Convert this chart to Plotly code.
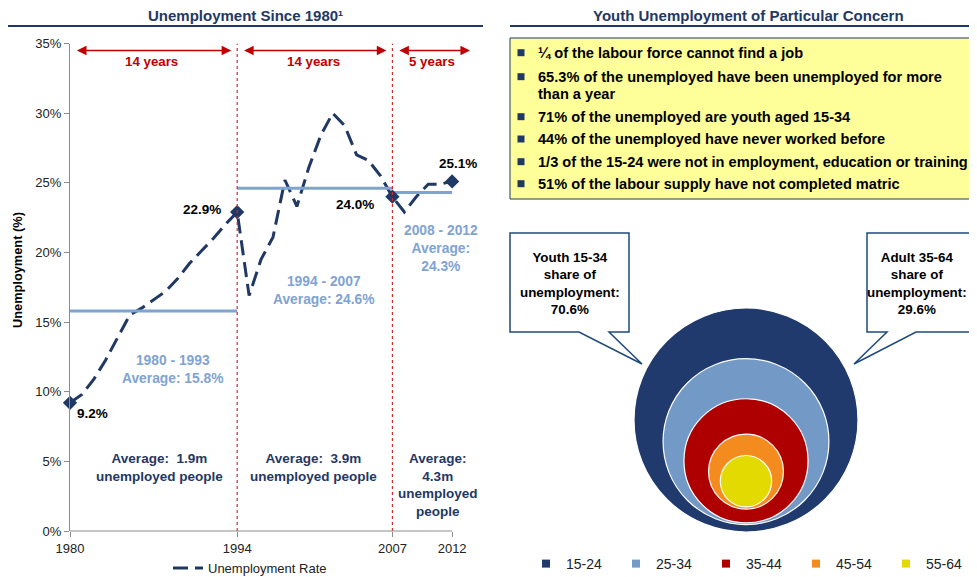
import plotly.graph_objects as go

# the page is shown with the browser's 8px body margin, so every pixel position
# below is measured from the window's top-left corner and shifted by OFF
OFF = 8
W, H = 977 - OFF, 577 - OFF

# --- left panel data ---
years = list(range(1980, 2013))
unemployment_rate = [9.2, 9.8, 10.9, 12.3, 13.9, 15.5, 16.0, 16.6, 17.2, 18.1, 19.2, 20.1, 21.0, 22.0,
                     22.9, 16.9, 19.5, 21.1, 25.2, 23.3, 26.1, 28.4, 30.0, 29.1, 27.0, 26.6, 25.5,
                     24.0, 22.9, 24.0, 24.9, 24.9, 25.1]
highlight_years = [1980, 1994, 2007, 2012]
x_ticks = [1980, 1994, 2007, 2012]

period_labels = ["1980 - 1993", "1994 - 2007", "2008 - 2012"]
period_start = [1980, 1994, 2007]
period_end = [1994, 2007, 2012]
period_avg = [15.8, 24.6, 24.3]
period_length = [14, 14, 5]
period_unemployed = ["1.9m", "3.9m", "4.3m"]

# --- right panel data ---
facts = [
    "¼ of the labour force cannot find a job",
    "65.3% of the unemployed have been unemployed for more<br>than a year",
    "71% of the unemployed are youth aged 15-34",
    "44% of the unemployed have never worked before",
    "1/3 of the 15-24 were not in employment, education or training",
    "51% of the labour supply have not completed matric",
]
age_groups = ["15-24", "25-34", "35-44", "45-54", "55-64"]
bubble_size = [45.6, 25.0, 14.0, 5.1, 2.4]
bubble_y = [5.0, 4.1, 3.3, 2.85, 2.45]
youth_share = 70.6
adult_share = 29.6

NAVY = "#1F3864"
LIGHT = "#7FA3D3"
RED = "#C00000"
GREY = "#8C8C8C"
bubble_colors = ["#203A6E", "#7399C6", "#AE0000", "#F38B1F", "#E2DA00"]
FONT = "Liberation Sans, Arial, sans-serif"


def fx(px):
    return (px - OFF) / W


def fy(py):
    return 1 - (py - OFF) / H


def note(px, py, text, size=13, color="#000", **kw):
    opts = dict(x=fx(px), y=fy(py), xref="paper", yref="paper", text=text, showarrow=False,
                xanchor="center", yanchor="middle", font=dict(size=size, color=color))
    opts.update(kw)
    fig.add_annotation(**opts)


fig = go.Figure()

# unemployment line
fig.add_trace(go.Scatter(
    x=years, y=unemployment_rate, mode="lines", name="Unemployment Rate",
    line=dict(color=NAVY, width=3, dash="15px,7px"), legend="legend", hoverinfo="skip"))

# period averages
for s, e, a in zip(period_start, period_end, period_avg):
    fig.add_trace(go.Scatter(x=[s, e], y=[a, a], mode="lines", showlegend=False,
                             line=dict(color=LIGHT, width=3), hoverinfo="skip"))

hl_vals = [unemployment_rate[years.index(y)] for y in highlight_years]
fig.add_trace(go.Scatter(x=highlight_years, y=hl_vals, mode="markers", showlegend=False,
                         marker=dict(symbol="diamond", size=11, color=NAVY),
                         cliponaxis=False, hoverinfo="skip"))

# data labels on highlighted points
label_shift = [(22, -11), (-35, 3), (-37, -8), (6, 18)]
for yr, v, (dx, dy) in zip(highlight_years, hl_vals, label_shift):
    fig.add_annotation(x=yr, y=v, xref="x", yref="y", text=f"<b>{v:.1f}%</b>", showarrow=False,
                       xshift=dx, yshift=dy, font=dict(size=13.5, color="#000"))

# period boundaries
for b in period_end[:2]:
    fig.add_shape(type="line", xref="x", yref="y", x0=b, x1=b, y0=0, y1=35,
                  line=dict(color="#D42A2A", width=1.2, dash="3px,3px"))

# span arrows
bounds = [1980, 1994, 2007, 2014]
for i, n in enumerate(period_length):
    a0, a1 = bounds[i] + 0.45, bounds[i + 1] - 0.5
    fig.add_annotation(x=a1, y=34.5, ax=a0, ay=34.5, xref="x", yref="y", axref="x", ayref="y",
                       text="", showarrow=True, arrowhead=2, startarrowhead=2, arrowside="end+start",
                       arrowsize=1.2, startarrowsize=1.2, arrowwidth=1.6, arrowcolor=RED, standoff=0,
                       startstandoff=0)
    fig.add_annotation(x=(bounds[i] + bounds[i + 1]) / 2 - 0.15, y=33.7, xref="x", yref="y",
                       text=f"<b>{n} years</b>", showarrow=False, font=dict(size=13.3, color=RED))

# average text
avg_pos = [(172.8, 369.8), (324, 290.8), (440.8, 248.7)]
for lab, a, (px, py) in zip(period_labels, period_avg, avg_pos):
    if lab.startswith("2008"):
        txt = f"<b>{lab}<br>Average:<br>{a}%</b>"
    else:
        txt = f"<b>{lab}<br>Average: {a}%</b>"
    note(px, py, txt, size=13.8, color=LIGHT)

un_pos = [159, 313.7, 438.2]
for m, px in zip(period_unemployed, un_pos):
    if m == period_unemployed[-1]:
        txt = f"<b>Average:<br>{m}<br>unemployed<br>people</b>"
    else:
        txt = f"<b>Average:  {m}<br>unemployed people</b>"
    note(px, 449, txt, size=13.5, color=NAVY, yanchor="top")

# x axis baseline (stops at 2012)
fig.add_shape(type="line", xref="x", yref="paper", x0=1980, x1=2012, y0=fy(531), y1=fy(531),
              line=dict(color=GREY, width=1))

note(17, 270, "<b>Unemployment (%)</b>", size=12.8, textangle=-90)

# --- titles ---
note(245, 15, "<b>Unemployment Since 1980¹</b>", size=15, color=NAVY)
note(748, 15, "<b>Youth Unemployment of Particular Concern</b>", size=15, color=NAVY)
for x0, x1 in [(7, 483), (510, 980)]:
    fig.add_shape(type="line", xref="paper", yref="paper", x0=fx(x0), x1=fx(x1), y0=fy(26), y1=fy(26),
                  line=dict(color=NAVY, width=2))

# --- fact box ---
fig.add_shape(type="rect", xref="paper", yref="paper", x0=fx(510), x1=fx(990), y0=fy(199), y1=fy(38),
              fillcolor="#FFFF99", line=dict(color=NAVY, width=1), layer="below")
fact_y = [52.7, 76.7, 116.7, 139, 161.7, 183.7]
for f, py in zip(facts, fact_y):
    fig.add_shape(type="rect", xref="paper", yref="paper", x0=fx(517.5), x1=fx(524.5),
                  y0=fy(py + 3.5), y1=fy(py - 3.5), fillcolor=NAVY, line=dict(width=0))
    for k, line in enumerate(f.split("<br>")):
        note(536, py + 17.3 * k, f"<b>{line}</b>", size=14.6, xanchor="left", align="left")

# --- bubbles ---
fig.add_trace(go.Scatter(
    x=[1] * len(age_groups), y=bubble_y, mode="markers", xaxis="x2", yaxis="y2", showlegend=False,
    marker=dict(size=bubble_size, sizemode="area", sizeref=2 * max(bubble_size) / 224 ** 2,
                color=bubble_colors, line=dict(color="white", width=1.2), opacity=1),
    cliponaxis=False, hoverinfo="skip"))
for g, c in zip(age_groups, bubble_colors):
    fig.add_trace(go.Scatter(x=[None], y=[None], mode="markers", name=g, legend="legend2",
                             marker=dict(symbol="square", size=8, color=c),
                             xaxis="x2", yaxis="y2"))


# callouts
def callout(pts):
    return "M " + " L ".join(f"{fx(a):.5f},{fy(b):.5f}" for a, b in pts) + " Z"


fig.add_shape(type="path", xref="paper", yref="paper",
              path=callout([(510, 233), (629, 233), (629, 332), (609, 332), (642, 364), (579, 332), (510, 332)]),
              fillcolor="white", line=dict(color="#1F497D", width=1.5))
fig.add_shape(type="path", xref="paper", yref="paper",
              path=callout([(867, 233), (990, 233), (990, 332), (916, 332), (854, 364), (887, 332), (867, 332)]),
              fillcolor="white", line=dict(color="#1F497D", width=1.5))
note(569.5, 283.5, f"<b>Youth 15-34<br>share of<br>unemployment:<br>{youth_share}%</b>", size=13.4)
note(917, 283.5, f"<b>Adult 35-64<br>share of<br>unemployment:<br>{adult_share}%</b>", size=13.4)

fig.update_layout(
    width=W, height=H, margin=dict(l=0, r=0, t=0, b=0, autoexpand=False),
    paper_bgcolor="white", plot_bgcolor="white",
    font=dict(family=FONT, size=13, color="#222"),
    xaxis=dict(domain=[fx(70), fx(476)], range=[1980, 2014], tickvals=x_ticks, showline=False,
               ticks="outside", ticklen=5, tickcolor=GREY, showgrid=False, zeroline=False,
               tickfont=dict(size=13, color="#222")),
    yaxis=dict(domain=[fy(531), fy(43.5)], range=[0, 35], dtick=5, ticksuffix="%", showline=True,
               linecolor=GREY, ticks="outside", ticklen=5, tickcolor=GREY, showgrid=False,
               zeroline=False, tickfont=dict(size=13, color="#222")),
    xaxis2=dict(domain=[fx(700), fx(792)], range=[0, 2], visible=False),
    yaxis2=dict(domain=[fy(540), fy(300)], range=[0, 10], visible=False, anchor="x2"),
    legend=dict(x=fx(168), y=fy(568), xanchor="left", yanchor="middle", orientation="h",
                bgcolor="rgba(0,0,0,0)", font=dict(size=13, color="#222")),
    legend2=dict(x=fx(526), y=fy(564), xanchor="left", yanchor="middle", orientation="h",
                 entrywidth=45, bgcolor="rgba(0,0,0,0)", font=dict(size=14, color="#222")),
)

fig.write_html("out.html")
